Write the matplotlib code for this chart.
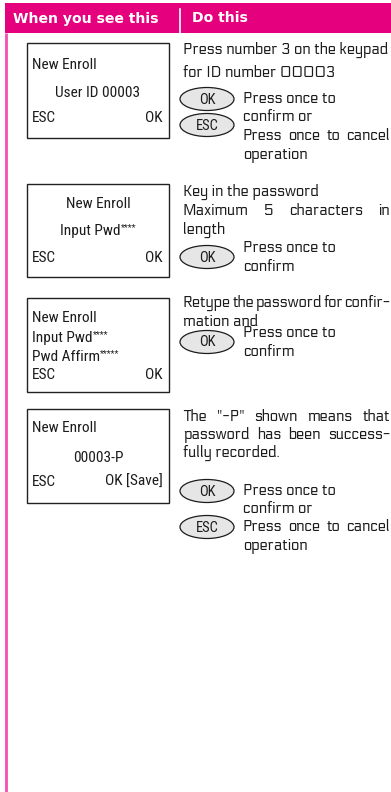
import matplotlib
matplotlib.use("Agg")
import matplotlib.pyplot as plt
from matplotlib.patches import Rectangle, Ellipse

# ---------------- content ----------------
header_left = "When you see this"
header_right = "Do this"

# screen contents: (text, align, y)  align in {'left','center','right'}; '|' starts superscript
screen1 = [("New Enroll", "left", 65), ("User ID 00003", "center", 93),
           ("ESC", "left", 118), ("OK", "right", 118)]
screen2 = [("New Enroll", "center", 204), ("Input Pwd|****", "center", 231),
           ("ESC", "left", 258), ("OK", "right", 258)]
screen3 = [("New Enroll", "left", 318), ("Input Pwd|****", "left", 338),
           ("Pwd Affirm|*****", "left", 357), ("ESC", "left", 375), ("OK", "right", 375)]
screen4 = [("New Enroll", "left", 428), ("00003-P", "center", 458),
           ("ESC", "left", 482), ("OK [Save]", "right", 482)]
screens = [screen1, screen2, screen3, screen4]
box_tops = [43, 184, 298, 409]
box_bottoms = [138, 277, 392, 503]

# instruction text: (text, indent key, y, justified)
instr = [
    ("Press number 3 on the keypad", "t", 50, False),
    ("for ID number 00003", "t", 73, False),
    ("Press once to", "b", 99, False),
    ("confirm or", "b", 117, False),
    ("Press once to cancel", "b", 136, True),
    ("operation", "b", 155, False),
    ("Key in the password", "t", 192, False),
    ("Maximum 5 characters in", "t", 211, True),
    ("length", "t", 230, False),
    ("Press once to", "b", 248, False),
    ("confirm", "b", 267, False),
    ("Retype the password for confir-", "t", 303, True),
    ("mation and", "t", 322, False),
    ("Press once to", "b", 333, False),
    ("confirm", "b", 352, False),
    ("The \"-P\" shown means that", "t", 417, True),
    ("password has been success-", "t", 435, True),
    ("fully recorded.", "t", 453, False),
    ("Press once to", "b", 491, False),
    ("confirm or", "b", 509, False),
    ("Press once to cancel", "b", 527, True),
    ("operation", "b", 546, False),
]
# buttons: (label, y-center)
buttons = [("OK", 99), ("ESC", 125), ("OK", 257), ("OK", 342), ("OK", 491), ("ESC", 527)]

# ---------------- style ----------------
MAGENTA = "#E5007D"
PINK_LINE = "#F54FAF"
INK = "#1c1c1c"
BOX_FONT = ["Roboto Condensed", "DejaVu Sans"]
BODY_FONT = ["Electrolize", "DejaVu Sans"]
HEAD_FONT = ["DejaVu Sans"]

W, H = 391, 792
fig = plt.figure(figsize=(W / 100, H / 100), dpi=100)
ax = fig.add_axes([0, 0, 1, 1])
ax.set_xlim(0, W)
ax.set_ylim(H, 0)
ax.axis("off")
fig.canvas.draw()
renderer = fig.canvas.get_renderer()


def width_of(t):
    return t.get_window_extent(renderer).width


def fit_size(text, family, target, weight="normal", base=10.0):
    t = ax.text(0, 0, text, fontsize=base, family=family, fontweight=weight)
    w = width_of(t)
    t.remove()
    return base * target / w


BOX_SIZE = fit_size("User ID 00003", BOX_FONT, 84)
BODY_SIZE = fit_size("Press number 3 on the keypad", BODY_FONT, 206)
HEAD_SIZE = fit_size(header_left, HEAD_FONT, 146, weight="bold")

# header bar
ax.add_patch(Rectangle((5, 3), W - 5, 30, facecolor=MAGENTA, edgecolor="none"))
ax.plot([180, 180], [9, 33], color="white", lw=1.2)
ax.text(13, 18.5, header_left, color="white", fontsize=HEAD_SIZE, fontweight="bold",
        family=HEAD_FONT, va="center", ha="left")
ax.text(192, 18.5, header_right, color="white", fontsize=HEAD_SIZE, fontweight="bold",
        family=HEAD_FONT, va="center", ha="left")
# left rule
ax.plot([6, 6], [33, H], color=PINK_LINE, lw=2.0, solid_capstyle="butt")

# screen boxes
BX0, BX1 = 27, 169
for top, bot in zip(box_tops, box_bottoms):
    ax.add_patch(Rectangle((BX0, top), BX1 - BX0, bot - top, facecolor="white",
                           edgecolor="#222222", lw=1.0))


def draw_run(text, align, y):
    parts = text.split("|")
    objs = []
    for i, p in enumerate(parts):
        if i == 0:
            t = ax.text(0, y, p, fontsize=BOX_SIZE, family=BOX_FONT, va="center",
                        ha="left", color=INK)
        else:
            t = ax.text(0, y - 3.5, p, fontsize=BOX_SIZE * 0.6, family=BOX_FONT,
                        va="center", ha="left", color=INK)
        objs.append(t)
    widths = [width_of(t) for t in objs]
    total = sum(widths)
    if align == "left":
        x = BX0 + 5
    elif align == "right":
        x = BX1 - 6 - total
    else:
        x = (BX0 + BX1) / 2 - total / 2
    for t, w in zip(objs, widths):
        t.set_x(x)
        x += w


for scr in screens:
    for text, align, y in scr:
        draw_run(text, align, y)

# buttons
for label, yc in buttons:
    ax.add_patch(Ellipse((207, yc), 54, 23, facecolor="#E6E6E6", edgecolor=INK, lw=0.9))
    ax.text(207, yc + 0.5, label, fontsize=BOX_SIZE * 0.95, family=BOX_FONT,
            ha="center", va="center", color=INK)

# instruction text
XT, XB, XR = 183, 243, 390
for text, key, y, just in instr:
    x0 = XT if key == "t" else XB
    if not just:
        ax.text(x0, y, text, fontsize=BODY_SIZE, family=BODY_FONT, va="center",
                ha="left", color=INK)
        continue
    words = text.split(" ")
    objs = [ax.text(0, y, w, fontsize=BODY_SIZE, family=BODY_FONT, va="center",
                    ha="left", color=INK) for w in words]
    ws = [width_of(t) for t in objs]
    gap = (XR - x0 - sum(ws)) / max(len(words) - 1, 1)
    x = x0
    for t, w in zip(objs, ws):
        t.set_x(x)
        x += w + gap

fig.savefig("out.png", dpi=100)
